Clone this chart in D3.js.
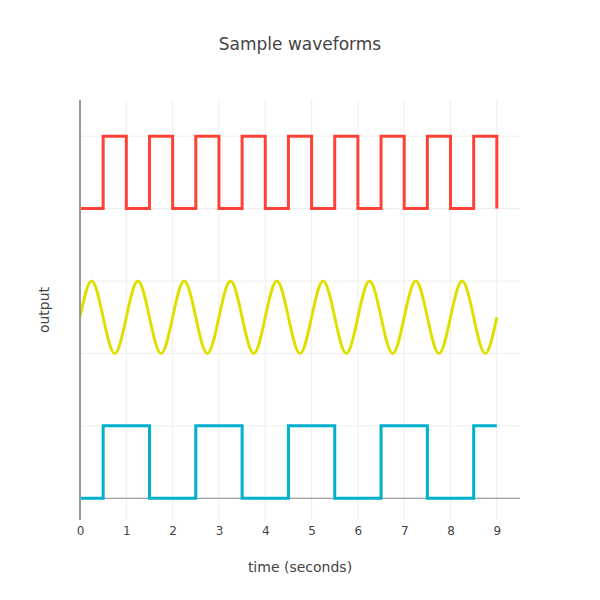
<!DOCTYPE html>
<html>
<head>
<meta charset="utf-8">
<script src="https://cdn.jsdelivr.net/npm/d3@7"></script>
<style>
  body { margin: 0; background: #fff; }
  svg { display: block; }
</style>
</head>
<body>
<svg id="chart" width="600" height="600"></svg>
<script>
// ---- Data ----
const timeSteps = [0,0.5,1,1.5,2,2.5,3,3.5,4,4.5,5,5.5,6,6.5,7,7.5,8,8.5,9];
const redSquare = [4,5,4,5,4,5,4,5,4,5,4,5,4,5,4,5,4,5,4];
const cyanSquare = [0,1,1,0,0,1,1,0,0,1,1,0,0,1,1,0,0,1,1];
const sineTime = [0,0.25,0.5,0.75,1,1.25,1.5,1.75,2,2.25,2.5,2.75,3,3.25,3.5,3.75,4,4.25,4.5,4.75,5,5.25,5.5,5.75,6,6.25,6.5,6.75,7,7.25,7.5,7.75,8,8.25,8.5,8.75,9];
const sineValues = [2.5,3,2.5,2,2.5,3,2.5,2,2.5,3,2.5,2,2.5,3,2.5,2,2.5,3,2.5,2,2.5,3,2.5,2,2.5,3,2.5,2,2.5,3,2.5,2,2.5,3,2.5,2,2.5];
const xTicks = [0,1,2,3,4,5,6,7,8,9];
const yGrid = [1,2,3,4,5];
const xDomain = [0, 9.5];
const yDomain = [-0.3, 5.5];
const colors = { red: "#FF4136", yellow: "#E0E000", cyan: "#00B0CC" };

// ---- Layout ----
const W = 600, H = 600;
const m = { l: 80, r: 80, t: 100, b: 80 };
const font = '"DejaVu Sans", verdana, arial, sans-serif';
const svg = d3.select("#chart");
const x = d3.scaleLinear().domain(xDomain).range([m.l, W - m.r]);
const y = d3.scaleLinear().domain(yDomain).range([H - m.b, m.t]);

// gridlines
const g = svg.append("g");
g.selectAll(".vg").data(xTicks.filter(d => d !== 0)).join("line")
  .attr("x1", d => x(d)).attr("x2", d => x(d))
  .attr("y1", m.t).attr("y2", H - m.b)
  .attr("stroke", "#eee").attr("stroke-width", 1);
g.selectAll(".hg").data(yGrid).join("line")
  .attr("x1", m.l).attr("x2", W - m.r)
  .attr("y1", d => y(d)).attr("y2", d => y(d))
  .attr("stroke", "#eee").attr("stroke-width", 1);
// zero line
g.append("line")
  .attr("x1", m.l).attr("x2", W - m.r)
  .attr("y1", y(0)).attr("y2", y(0))
  .attr("stroke", "#888").attr("stroke-width", 1);

// x axis tick labels
const xAxis = d3.axisBottom(x).tickValues(xTicks).tickSize(0).tickPadding(6).tickFormat(d3.format("d"));
const xa = svg.append("g").attr("transform", `translate(0,${H - m.b})`).call(xAxis);
xa.select(".domain").remove();
xa.selectAll("text").attr("font-family", font).attr("font-size", 12).attr("fill", "#444");

// lines
const stepLine = d3.line().x(d => x(d[0])).y(d => y(d[1])).curve(d3.curveStepAfter);
const smoothLine = d3.line().x(d => x(d[0])).y(d => y(d[1])).curve(d3.curveNatural);

svg.append("path").datum(timeSteps.map((t, i) => [t, cyanSquare[i]]))
  .attr("d", stepLine).attr("fill", "none").attr("stroke", colors.cyan).attr("stroke-width", 3);
svg.append("path").datum(sineTime.map((t, i) => [t, sineValues[i]]))
  .attr("d", smoothLine).attr("fill", "none").attr("stroke", colors.yellow).attr("stroke-width", 3);
svg.append("path").datum(timeSteps.map((t, i) => [t, redSquare[i]]))
  .attr("d", stepLine).attr("fill", "none").attr("stroke", colors.red).attr("stroke-width", 3);

// y axis line
svg.append("line")
  .attr("x1", m.l).attr("x2", m.l).attr("y1", m.t).attr("y2", H - m.b)
  .attr("stroke", "#999").attr("stroke-width", 2);

// titles
svg.append("text").attr("x", W / 2).attr("y", 50).attr("text-anchor", "middle")
  .attr("font-family", font).attr("font-size", 17).attr("fill", "#444").text("Sample waveforms");
svg.append("text").attr("x", W / 2).attr("y", 572).attr("text-anchor", "middle")
  .attr("font-family", font).attr("font-size", 14).attr("fill", "#444").text("time (seconds)");
svg.append("text").attr("transform", `translate(49,${(m.t + H - m.b) / 2}) rotate(-90)`)
  .attr("text-anchor", "middle")
  .attr("font-family", font).attr("font-size", 14).attr("fill", "#444").text("output");
</script>
</body>
</html>
